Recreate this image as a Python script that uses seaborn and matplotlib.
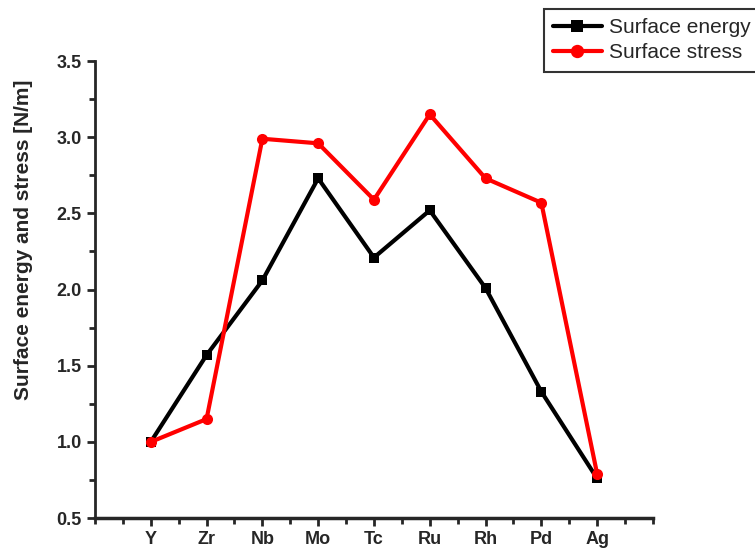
import pandas as pd
import matplotlib.pyplot as plt
import seaborn as sns

# dados
elementos = ['Y', 'Zr', 'Nb', 'Mo', 'Tc', 'Ru', 'Rh', 'Pd', 'Ag']
energia = [1.00, 1.57, 2.06, 2.73, 2.21, 2.52, 2.01, 1.33, 0.76]
tensao = [1.00, 1.15, 2.99, 2.96, 2.59, 3.15, 2.73, 2.57, 0.79]

pos = list(range(1, len(elementos) + 1))
df = pd.DataFrame({'pos': pos, 'energia': energia, 'tensao': tensao})

sns.set_style('ticks')
plt.rcParams['font.family'] = ['Liberation Sans', 'DejaVu Sans']

fig = plt.figure(figsize=(7.55, 5.5), dpi=100)
ax = fig.add_axes([0.1258, 0.058, 0.739, 0.831])

sns.lineplot(data=df, x='pos', y='energia', color='black', linewidth=3,
             marker='s', markersize=7, markeredgewidth=0, label='Surface energy', ax=ax)
sns.lineplot(data=df, x='pos', y='tensao', color='red', linewidth=3,
             marker='o', markersize=8, markeredgewidth=0, label='Surface stress', ax=ax)

ax.set_xlim(0, 10)
ax.set_ylim(0.5, 3.5)
ax.set_xticks(pos)
ax.set_xticklabels(elementos)
ax.set_xticks([x + 0.5 for x in range(0, 10)] + [0, 10], minor=True)
ax.set_yticks([0.5, 1.0, 1.5, 2.0, 2.5, 3.0, 3.5])
ax.set_yticks([0.75, 1.25, 1.75, 2.25, 2.75, 3.25], minor=True)

for lab in ax.get_xticklabels() + ax.get_yticklabels():
    lab.set_fontweight('bold')
ax.tick_params(axis='both', which='major', labelsize=13, length=6, width=2, direction='out')
ax.tick_params(axis='both', which='minor', length=4, width=2, direction='out')

ax.set_xlabel('')
ax.set_ylabel('Surface energy and stress [N/m]', fontsize=15, fontweight='bold')
ax.yaxis.set_label_coords(-0.111, 0.608)

sns.despine(ax=ax)
ax.spines['left'].set_linewidth(2)
ax.spines['bottom'].set_linewidth(2.5)

leg = ax.legend(loc='upper left', bbox_to_anchor=(0.72, 0.984), bbox_transform=fig.transFigure,
                fontsize=15, frameon=True, fancybox=False, handlelength=2.35,
                borderpad=0.45, labelspacing=0.3, handletextpad=0.35, borderaxespad=0,
                markerscale=1.2)
leg.get_frame().set_edgecolor('black')
leg.get_frame().set_linewidth(1.5)

fig.savefig('out.png', dpi=100)
